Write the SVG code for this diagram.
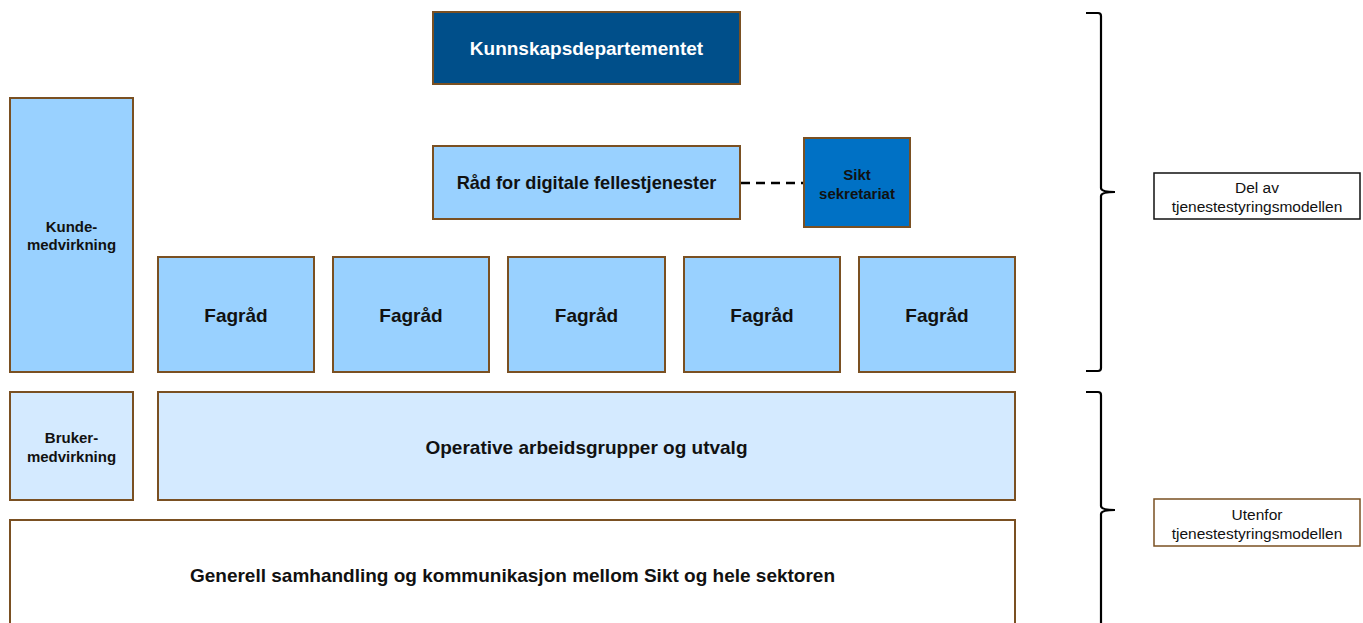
<svg xmlns="http://www.w3.org/2000/svg" width="1363" height="623" viewBox="0 0 1363 623">
<style>
.box{stroke:#7a5022;stroke-width:2}
.lb{fill:#99d1ff}
.vl{fill:#d4eaff}
.t{font-family:"Liberation Sans",Arial,sans-serif;font-weight:bold;fill:#111;text-anchor:middle;dominant-baseline:central}
.big{font-size:19px}
.sm{font-size:15px}
.n{font-family:"Liberation Sans",Arial,sans-serif;font-size:15.5px;fill:#111;text-anchor:middle;dominant-baseline:central}
.brace{fill:none;stroke:#000;stroke-width:2.2}
</style>
<rect width="1363" height="623" fill="#fff"/>
<g id="connectors">
<line x1="741" y1="183" x2="804" y2="183" stroke="#000" stroke-width="2.5" stroke-dasharray="9,6"/>
</g>
<g id="kd">
<rect class="box" x="433" y="12" width="307" height="72" fill="#004f8a"/>
<text class="t big" x="586.5" y="48" style="fill:#fff">Kunnskapsdepartementet</text>
</g>
<g id="kunde">
<rect class="box lb" x="10" y="98" width="123" height="274"/>
<text class="t sm" x="71.5" y="226">Kunde-</text>
<text class="t sm" x="71.5" y="244">medvirkning</text>
</g>
<g id="rad">
<rect class="box lb" x="433" y="146" width="307" height="73"/>
<text class="t" x="586.5" y="183" style="font-size:18.2px">Råd for digitale fellestjenester</text>
</g>
<g id="sikt">
<rect class="box" x="804" y="138" width="106" height="89" fill="#0071c5"/>
<text class="t sm" x="857" y="174">Sikt</text>
<text class="t sm" x="857" y="193">sekretariat</text>
</g>
<g id="fag1"><rect class="box lb" x="158" y="257" width="156" height="115"/><text class="t big" x="236" y="315">Fagråd</text></g>
<g id="fag2"><rect class="box lb" x="333" y="257" width="156" height="115"/><text class="t big" x="411" y="315">Fagråd</text></g>
<g id="fag3"><rect class="box lb" x="508" y="257" width="157" height="115"/><text class="t big" x="586.5" y="315">Fagråd</text></g>
<g id="fag4"><rect class="box lb" x="684" y="257" width="156" height="115"/><text class="t big" x="762" y="315">Fagråd</text></g>
<g id="fag5"><rect class="box lb" x="859" y="257" width="156" height="115"/><text class="t big" x="937" y="315">Fagråd</text></g>
<g id="bruker">
<rect class="box vl" x="10" y="392" width="123" height="108"/>
<text class="t sm" x="71.5" y="437">Bruker-</text>
<text class="t sm" x="71.5" y="456">medvirkning</text>
</g>
<g id="operative">
<rect class="box vl" x="158" y="392" width="857" height="108"/>
<text class="t big" x="586.5" y="447">Operative arbeidsgrupper og utvalg</text>
</g>
<g id="generell">
<rect class="box" x="10" y="520" width="1005" height="120" fill="#fff"/>
<text class="t big" x="512.5" y="575">Generell samhandling og kommunikasjon mellom Sikt og hele sektoren</text>
</g>
<g id="brace1">
<path class="brace" d="M1086,13 H1098 Q1101,13 1101,16 V188 Q1101,192 1115,192 Q1101,192 1101,196 V368 Q1101,371 1098,371 H1086"/>
</g>
<g id="brace2">
<path class="brace" d="M1086,392 H1098 Q1101,392 1101,395 V506 Q1101,510 1115,510 Q1101,510 1101,514 V630"/>
</g>
<g id="delav">
<rect x="1154" y="173" width="206" height="46" fill="#fff" stroke="#111" stroke-width="1.5"/>
<text class="n" x="1257" y="187">Del av</text>
<text class="n" x="1257" y="206">tjenestestyringsmodellen</text>
</g>
<g id="utenfor">
<rect x="1154" y="499" width="206" height="47" fill="#fff" stroke="#7a5022" stroke-width="1.5"/>
<text class="n" x="1257" y="514">Utenfor</text>
<text class="n" x="1257" y="533">tjenestestyringsmodellen</text>
</g>
</svg>
